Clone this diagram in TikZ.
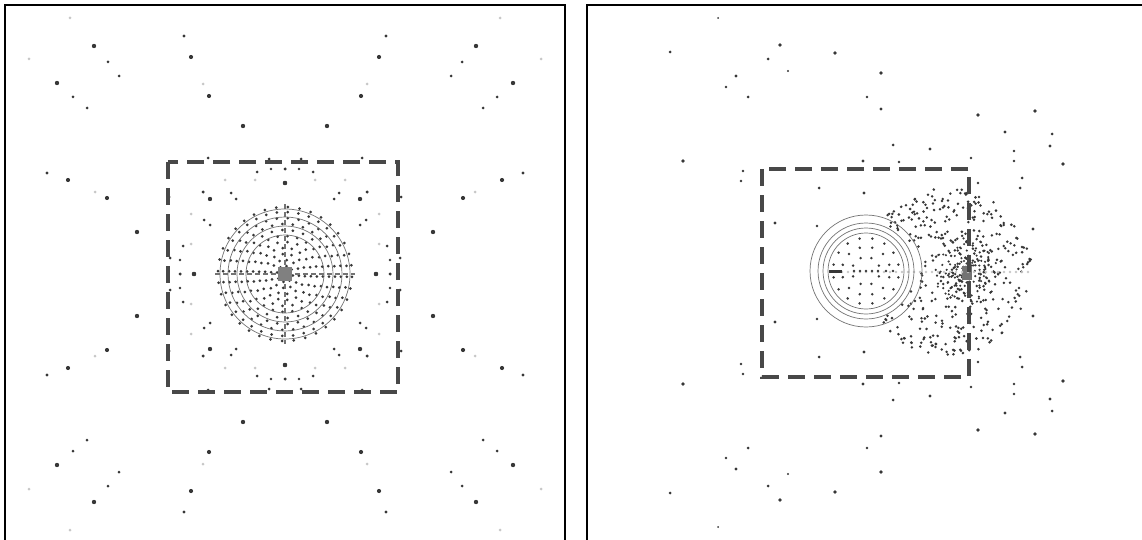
\documentclass[tikz,border=0pt]{standalone}
\usetikzlibrary{positioning}
\definecolor{spotgray}{RGB}{55,55,55}
\definecolor{boxgray}{RGB}{72,72,72}
\definecolor{ringgray}{RGB}{115,115,115}

\begin{document}
\begin{tikzpicture}[x=1pt,y=-1pt,
    frame/.style={line width=2.4pt, draw=black},
    window/.style={line width=3.6pt, draw=boxgray, dash pattern=on 17pt off 9pt},
    ring/.style={draw=ringgray, line width=0.7pt},
    axisline/.style={draw=ringgray, line width=1.4pt, dash pattern=on 5pt off 3pt},
    dot/.style={fill=spotgray},
    faintdot/.style={fill=black!22}
  ]
  \useasboundingbox (0,0) rectangle (1142,540);

  % panel frames
  \draw[frame] (5,560) -- (5,5) -- (565,5) -- (565,560);
  \draw[frame] (587,560) -- (587,5) -- (1160,5);

  % left panel: lattice with 8-fold symmetry around (285,274)
  \begin{scope}[shift={(285,274)}]
    \foreach \dx/\dy/\s in {-191/-228/2.2, -177/-212/1.5, -166/-198/1.5, -101/-238/1.6,
        -94/-217/2.1, -76/-178/2.1, -42/-148/2.2, 0/-91/2.2, -75/-75/2.1, -82/-82/1.5,
        -54/-81/1.5, -49/-75/1.5, -77/-116/1.5, -16/-115/1.5, -28/-102/1.5, -14/-105/1.4, 0/-105/1.5} {
      \foreach \sx in {1,-1} \foreach \sy in {1,-1} {
        \fill[dot] ({\sx*(\dx)},{\sy*(\dy)}) circle (\s);
        \fill[dot] ({\sx*(\dy)},{\sy*(\dx)}) circle (\s);
      }
    }
    \foreach \dx/\dy in {-215/-256, -82/-190, -60/-94, -30/-94} {
      \foreach \sx in {1,-1} \foreach \sy in {1,-1} {
        \fill[faintdot] ({\sx*(\dx)},{\sy*(\dy)}) circle (1.5);
        \fill[faintdot] ({\sx*(\dy)},{\sy*(\dx)}) circle (1.5);
      }
    }
    % rings of the core
    \foreach \r/\n in {8/8, 14/12, 20/14, 26/18, 32/20, 38/24, 44/26, 50/30, 56/32, 62/36, 67/36} {
      \foreach \k in {1,...,\n}
        \fill[dot] ({\r*cos(360*\k/\n+90/\n)},{\r*sin(360*\k/\n+90/\n)}) circle (1.5);
    }
    \foreach \r in {65,57,48,39}
      \draw[ring] (0,0) circle (\r);
    \draw[axisline] (-70,0) -- (70,0);
    \draw[axisline] (0,-70) -- (0,70);
    \fill[black!50] (-7,-7) rectangle (7,7);
  \end{scope}
  \draw[window] (168,162) rectangle (398,392);

  % right panel: outer points, mirrored about y = 272.5
  \foreach \px/\py/\s in {718/18/1.0, 670/52/1.5, 780/45/1.8, 768/59/1.5, 788/71/1.1,
      736/76/1.7, 726/87/1.4, 748/97/1.5, 835/53/1.8, 881/73/1.8, 867/97/1.4, 881/109/1.7,
      978/115/1.9, 1035/111/1.8, 1005/132/1.7, 1052/134/1.5, 1050/146/1.6, 893/145/1.5,
      930/149/1.6, 1014/151/1.3, 1063/164/1.8, 1014/161/1.3, 971/158/1.3, 1022/178/1.5,
      1020/188/1.5, 683/161/1.9, 743/171/1.4, 741/181/1.4, 863/161/1.6, 899/162/1.4,
      819/188/1.5, 864/193/1.7, 775/223/1.6, 1033/229/1.6, 817/226/1.3, 978/183/1.4} {
    \fill[dot] (\px,\py) circle (\s);
    \fill[dot] (\px,545-\py) circle (\s);
  }

  % cloud of particles
  \pgfmathsetseed{4711}
  \foreach \i in {1,...,460} {
    \pgfmathsetmacro\r{84*sqrt(rnd)}
    \pgfmathsetmacro\a{360*rnd}
    \pgfmathsetmacro\px{948+\r*cos(\a)}
    \pgfmathsetmacro\py{272+\r*sin(\a)}
    \pgfmathtruncatemacro\keep{(((\px-866)/10)^2+((\py-271)/10)^2 > 24) ? 1 : 0}
    \ifnum\keep=1 \fill[dot] (\px,\py) circle (1.4); \fi
  }
  \foreach \i in {1,...,150} {
    \pgfmathsetmacro\r{34*rnd}
    \pgfmathsetmacro\a{360*rnd}
    \fill[dot] ({966+\r*cos(\a)},{272+\r*sin(\a)}) circle (1.2);
  }
  \fill[black!55] (962,266) rectangle (972,280);
  \foreach \x in {830,836,...,1032}
    \fill[faintdot] (\x,272) circle (1.3);

  % rings of the body
  \begin{scope}[shift={(866,271)}]
    \foreach \r/\n in {14/8, 24/12, 33/16} {
      \foreach \k in {1,...,\n}
        \fill[dot] ({\r*cos(360*\k/\n+180/\n)},{\r*sin(360*\k/\n+180/\n)}) circle (1.4);
    }
    \foreach \x in {-12,-6,0,6,12,20,27}
      \fill[dot] (\x,0) circle (1.4);
    \fill[spotgray] (-37,-1.5) rectangle (-24,1.5);
    \foreach \r in {56,48,43,38}
      \draw[ring] (0,0) circle (\r);
  \end{scope}
  \draw[window] (762,169) rectangle (969,377);
\end{tikzpicture}
\end{document}
